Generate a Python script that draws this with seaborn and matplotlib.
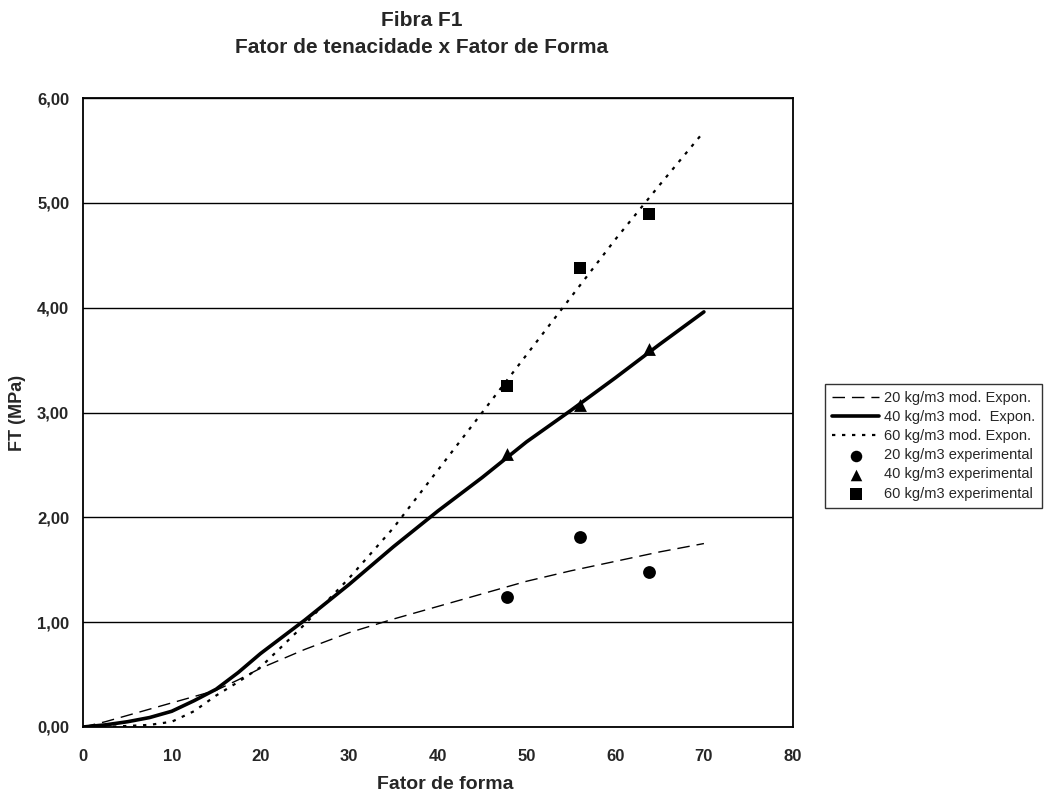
import matplotlib
matplotlib.use("Agg")
import matplotlib.pyplot as plt
import seaborn as sns
import pandas as pd

# ---- data ----
x_model = [0, 2.5, 5, 7.5, 10, 12.5, 15, 17.5, 20, 25, 30, 35, 40, 45, 50, 55, 60, 65, 70]
ft_20_model = [0, 0.05, 0.11, 0.17, 0.23, 0.29, 0.35, 0.45, 0.56, 0.74, 0.90, 1.03, 1.15, 1.27, 1.39, 1.49, 1.58, 1.67, 1.75]
ft_40_model = [0, 0.02, 0.05, 0.09, 0.15, 0.25, 0.36, 0.52, 0.70, 1.02, 1.36, 1.72, 2.06, 2.38, 2.72, 3.02, 3.33, 3.65, 3.96]
ft_60_model = [0, 0.0, 0.01, 0.02, 0.05, 0.15, 0.30, 0.43, 0.57, 0.98, 1.42, 1.90, 2.45, 3.00, 3.55, 4.10, 4.65, 5.17, 5.68]

x_exp = [47.8, 56.0, 63.8]
ft_20_exp = [1.24, 1.81, 1.48]
ft_40_exp = [2.60, 3.07, 3.61]
ft_60_exp = [3.25, 4.38, 4.89]

labels_model = ["20 kg/m3 mod. Expon.", "40 kg/m3 mod.  Expon.", "60 kg/m3 mod. Expon."]
labels_exp = ["20 kg/m3 experimental", "40 kg/m3 experimental", "60 kg/m3 experimental"]

x_ticks = [0, 10, 20, 30, 40, 50, 60, 70, 80]
y_ticks = [0, 1, 2, 3, 4, 5, 6]
y_tick_labels = ["0,00", "1,00", "2,00", "3,00", "4,00", "5,00", "6,00"]

title_1 = "Fibra F1"
title_2 = "Fator de tenacidade x Fator de Forma"
x_label = "Fator de forma"
y_label = "FT (MPa)"

# ---- style ----
sns.set_style("white")
narrow = ["Liberation Sans Narrow", "Liberation Sans", "DejaVu Sans"]
plt.rcParams["font.family"] = narrow

fig = plt.figure(figsize=(10.54, 8.01), dpi=100)
ax = fig.add_axes([0.0788, 0.0924, 0.6732, 0.7852])

styles = [(0, (9, 5)), "-", (0, (1.5, 3))]
widths = [1.0, 2.6, 1.6]
for ys, ls, lw, lab in zip([ft_20_model, ft_40_model, ft_60_model], styles, widths, labels_model):
    df = pd.DataFrame({"x": x_model, "y": ys})
    sns.lineplot(data=df, x="x", y="y", ax=ax, color="black", linestyle=ls, linewidth=lw, label=lab)

markers = ["o", "^", "s"]
for ys, mk, lab in zip([ft_20_exp, ft_40_exp, ft_60_exp], markers, labels_exp):
    df = pd.DataFrame({"x": x_exp, "y": ys})
    sns.scatterplot(data=df, x="x", y="y", ax=ax, color="black", marker=mk, s=85,
                    edgecolor="black", linewidth=0, label=lab, zorder=5)

ax.set_xlim(0, 80)
ax.set_ylim(0, 6)
ax.set_xticks(x_ticks)
ax.set_xticklabels([str(t) for t in x_ticks], fontsize=12, fontweight="bold")
ax.set_yticks(y_ticks)
ax.set_yticklabels(y_tick_labels, fontsize=12, fontweight="bold")
ax.yaxis.grid(True, color="black", linewidth=1.0)
ax.xaxis.grid(False)
ax.set_axisbelow(True)
ax.tick_params(axis="y", direction="out", length=4, width=1, color="black", pad=6)
ax.tick_params(axis="x", direction="out", length=4, width=1, color="black", pad=12)
for sp in ax.spines.values():
    sp.set_color("black")
    sp.set_linewidth(1.3)

ax.set_xlabel(x_label, fontsize=14, fontweight="bold")
ax.xaxis.set_label_coords(0.51, -0.078)
ax.set_ylabel(y_label, fontsize=13, fontweight="bold")
ax.yaxis.set_label_coords(-0.080, 0.5)

fig.text(0.40, 0.975, title_1, ha="center", va="center", fontsize=15, fontweight="bold")
fig.text(0.40, 0.941, title_2, ha="center", va="center", fontsize=15, fontweight="bold")

handles, labs = ax.get_legend_handles_labels()
ax.legend(handles, labs, loc="upper left", bbox_to_anchor=(0.776, 0.53),
          bbox_transform=fig.transFigure, frameon=True, fancybox=False,
          edgecolor="black", fontsize=10.5, handlelength=3.2, handletextpad=0.3,
          labelspacing=0.35, borderpad=0.5, markerscale=0.9)
leg = ax.get_legend()
leg.get_frame().set_linewidth(1.0)

fig.savefig("out.png", dpi=100)
